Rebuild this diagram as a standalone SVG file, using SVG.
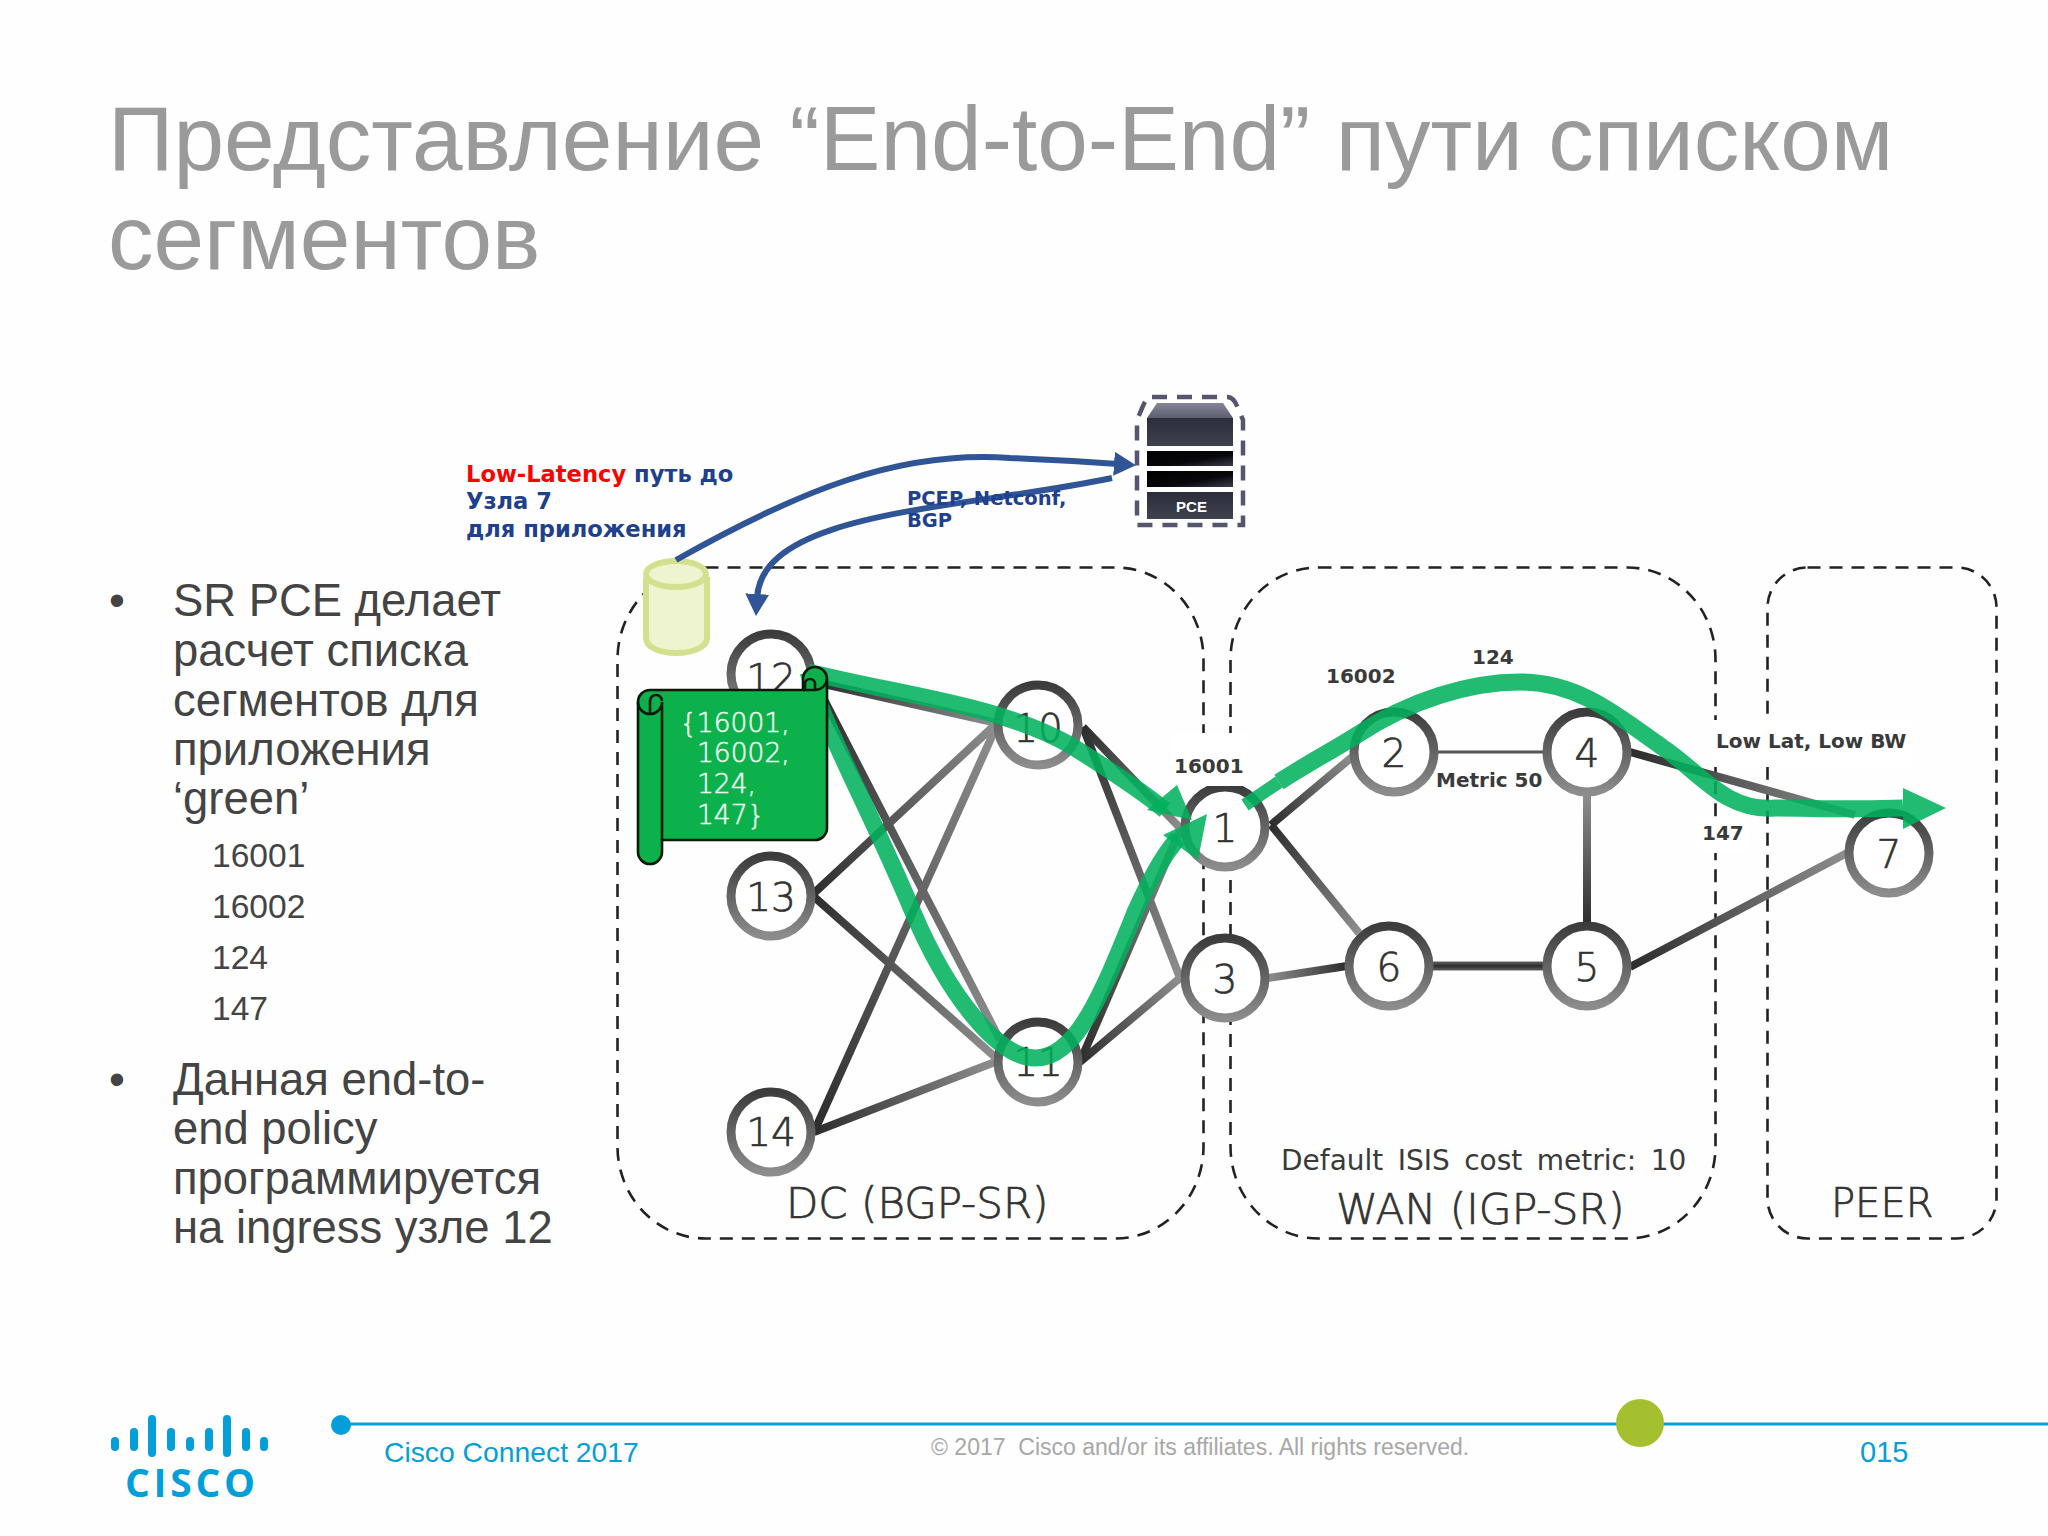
<svg xmlns="http://www.w3.org/2000/svg" width="2048" height="1536" viewBox="0 0 2048 1536">
<defs>
<linearGradient id="nodeg" x1="0" y1="0" x2="0" y2="1"><stop offset="0" stop-color="#3c3c3c"/><stop offset="1" stop-color="#8c8c8c"/></linearGradient>
<linearGradient id="lk"><stop offset="0" stop-color="#2c2c2c"/><stop offset="1" stop-color="#8e8e8e"/></linearGradient>
<linearGradient id="l1" href="#lk" gradientUnits="userSpaceOnUse" x1="815" y1="682" x2="997" y2="723"/>
<linearGradient id="l2" href="#lk" gradientUnits="userSpaceOnUse" x1="815" y1="682" x2="1000" y2="1040"/>
<linearGradient id="l3" href="#lk" gradientUnits="userSpaceOnUse" x1="812" y1="895" x2="997" y2="723"/>
<linearGradient id="l4" href="#lk" gradientUnits="userSpaceOnUse" x1="812" y1="895" x2="995" y2="1057"/>
<linearGradient id="l5" href="#lk" gradientUnits="userSpaceOnUse" x1="814" y1="1132" x2="997" y2="725"/>
<linearGradient id="l6" href="#lk" gradientUnits="userSpaceOnUse" x1="814" y1="1132" x2="995" y2="1062"/>
<linearGradient id="l7" href="#lk" gradientUnits="userSpaceOnUse" x1="1083" y1="727" x2="1180" y2="978"/>
<linearGradient id="l8" href="#lk" gradientUnits="userSpaceOnUse" x1="1080" y1="1062" x2="1180" y2="830"/>
<linearGradient id="l9" href="#lk" gradientUnits="userSpaceOnUse" x1="1080" y1="1062" x2="1180" y2="978"/>
<linearGradient id="l10" href="#lk" gradientUnits="userSpaceOnUse" x1="1083" y1="727" x2="1182" y2="830"/>
<linearGradient id="l11" href="#lk" gradientUnits="userSpaceOnUse" x1="1271" y1="825" x2="1352" y2="757"/>
<linearGradient id="l12" href="#lk" gradientUnits="userSpaceOnUse" x1="1271" y1="825" x2="1359" y2="933"/>
<linearGradient id="l13" href="#lk" gradientUnits="userSpaceOnUse" x1="1587" y1="925" x2="1587" y2="795"/>
<linearGradient id="l14" href="#lk" gradientUnits="userSpaceOnUse" x1="1347" y1="966" x2="1268" y2="978"/>
<linearGradient id="l15" gradientUnits="userSpaceOnUse" x1="0" y1="958" x2="0" y2="974"><stop offset="0" stop-color="#8c8c8c"/><stop offset=".5" stop-color="#2c2c2c"/><stop offset="1" stop-color="#8c8c8c"/></linearGradient>
<linearGradient id="l16" href="#lk" gradientUnits="userSpaceOnUse" x1="1630" y1="967" x2="1847" y2="853"/>
<linearGradient id="l17" href="#lk" gradientUnits="userSpaceOnUse" x1="1630" y1="752" x2="1855" y2="815"/>
<linearGradient id="capg" x1="0" y1="0" x2="0" y2="1"><stop offset="0" stop-color="#85869a"/><stop offset="1" stop-color="#5c5d6e"/></linearGradient>
<linearGradient id="darkg" x1="0" y1="0" x2="0" y2="1"><stop offset="0" stop-color="#2c2d3c"/><stop offset="1" stop-color="#40424f"/></linearGradient>
<linearGradient id="blackg" x1="0" y1="0" x2="1" y2="1"><stop offset="0" stop-color="#000"/><stop offset=".6" stop-color="#08080c"/><stop offset="1" stop-color="#3a3d4a"/></linearGradient>
<marker id="bluehead" markerUnits="userSpaceOnUse" markerWidth="22" markerHeight="24" refX="4" refY="12" orient="auto"><path d="M0 0L22 12L0 24Z" fill="#2f5597"/></marker>
</defs>
<style>
.t{font-family:"Liberation Sans",Arial,sans-serif}
.d{font-family:"DejaVu Sans",Verdana,sans-serif}
.title{font-size:91px;fill:#9a9a9a}
.b{font-size:45.4px;fill:#444}
.s{font-size:33.6px;fill:#444}
.box{fill:none;stroke:#222;stroke-width:2.6;stroke-dasharray:13 9}
.lk{fill:none;stroke-width:8}
.n{fill:#fff;stroke:url(#nodeg);stroke-width:9}
.nl{font-size:39px;font-weight:200;fill:#333;stroke:#333;stroke-width:.7px;text-anchor:middle;font-family:"DejaVu Sans",Verdana,sans-serif}
.reg{font-size:42px;font-weight:200;fill:#333;stroke:#333;stroke-width:.7px}
.lab{font-size:20px;font-weight:bold;fill:#3a3a3a}
.g{fill:none;stroke:#00b15c;stroke-width:17;stroke-opacity:.87}
.gh{fill:#00b15c;fill-opacity:.87}
.blue{fill:none;stroke:#2f5597;stroke-width:6}
.bt{font-size:22.6px;font-weight:bold;fill:#1f3f8f}
.bs{font-size:19.5px;font-weight:bold;fill:#1f3f8f}
.scroll{fill:#0db14b;stroke:#0a1a0a;stroke-width:2.6}
.st{font-size:26.5px;font-weight:200;fill:#f0fff5;stroke:#f0fff5;stroke-width:.5px}
.foot{fill:#049fd9}
.bar{stroke:#049fd9;stroke-width:8;stroke-linecap:round}
</style>
<rect width="2048" height="1536" fill="#fefefe"/>

<g id="title" class="t title">
<text x="108" y="170">Представление “End-to-End” пути списком</text>
<text x="108" y="269">сегментов</text>
</g>
<g id="bullets" class="t">
<text class="b" x="109" y="616">•</text>
<text class="b" x="173" y="616">SR PCE делает</text>
<text class="b" x="173" y="666">расчет списка</text>
<text class="b" x="173" y="716">сегментов для</text>
<text class="b" x="173" y="765">приложения</text>
<text class="b" x="173" y="814">‘green’</text>
<text class="s" x="212" y="867">16001</text>
<text class="s" x="212" y="918">16002</text>
<text class="s" x="212" y="969">124</text>
<text class="s" x="212" y="1020">147</text>
<text class="b" x="109" y="1095">•</text>
<text class="b" x="173" y="1095">Данная end-to-</text>
<text class="b" x="173" y="1144">end policy</text>
<text class="b" x="173" y="1194">программируется</text>
<text class="b" x="173" y="1243">на ingress узле 12</text>
</g>

<g id="regions">
<rect class="box" x="617.500" y="567.500" width="586" height="671" rx="88" ry="92"/>
<rect class="box" x="1230.500" y="567.500" width="485" height="671" rx="88" ry="92"/>
<rect class="box" x="1767.500" y="567.500" width="229" height="671" rx="40" ry="40"/>
<text class="d reg" x="786" y="1218">DC (BGP-SR)</text>
<text class="d reg" x="1336" y="1224" style="font-size:42.4px">WAN (IGP-SR)</text>
<text class="d reg" x="1831" y="1217" style="font-size:40px">PEER</text>
<text class="d" x="1281" y="1170" font-size="28" fill="#3a3a3a" word-spacing="5.500">Default ISIS cost metric: 10</text>
</g>

<g id="connectors">
<line class="lk" x1="815" y1="682" x2="997" y2="723" stroke="url(#l1)"/>
<line class="lk" x1="815" y1="682" x2="1000" y2="1040" stroke="url(#l2)"/>
<line class="lk" x1="812" y1="895" x2="997" y2="723" stroke="url(#l3)"/>
<line class="lk" x1="812" y1="895" x2="995" y2="1057" stroke="url(#l4)"/>
<line class="lk" x1="814" y1="1132" x2="997" y2="725" stroke="url(#l5)"/>
<line class="lk" x1="814" y1="1132" x2="995" y2="1062" stroke="url(#l6)"/>
<line class="lk" x1="1083" y1="727" x2="1180" y2="978" stroke="url(#l7)"/>
<line class="lk" x1="1080" y1="1062" x2="1180" y2="830" stroke="url(#l8)"/>
<line class="lk" x1="1080" y1="1062" x2="1180" y2="978" stroke="url(#l9)"/>
<line class="lk" x1="1083" y1="727" x2="1182" y2="830" stroke="url(#l10)"/>
<line class="lk" x1="1271" y1="825" x2="1352" y2="757" stroke="url(#l11)"/>
<line class="lk" x1="1271" y1="825" x2="1359" y2="933" stroke="url(#l12)"/>
<line x1="1438" y1="752" x2="1545" y2="752" stroke="#555" stroke-width="3"/>
<line class="lk" x1="1587" y1="795" x2="1587" y2="925" stroke="url(#l13)"/>
<line class="lk" x1="1268" y1="978" x2="1347" y2="966" stroke="url(#l14)"/>
<line x1="1432" y1="966" x2="1543" y2="966" stroke="url(#l15)" stroke-width="9"/>
<line class="lk" x1="1630" y1="967" x2="1847" y2="853" stroke="url(#l16)"/>
<line class="lk" x1="1630" y1="752" x2="1855" y2="815" stroke="url(#l17)"/>
</g>

<g id="node-12"><circle class="n" cx="771" cy="674" r="40"/><text class="nl" x="771" y="692">12</text></g>
<g id="node-10"><circle class="n" cx="1038" cy="725" r="40"/><text class="nl" x="1038" y="742">10</text></g>
<g id="node-13"><circle class="n" cx="771" cy="896" r="40"/><text class="nl" x="771" y="911">13</text></g>
<g id="node-14"><circle class="n" cx="771" cy="1132" r="40"/><text class="nl" x="771" y="1146">14</text></g>
<g id="node-11"><circle class="n" cx="1038" cy="1062" r="40"/><text class="nl" x="1038" y="1076">11</text></g>
<g id="node-1"><circle class="n" cx="1225" cy="827" r="40"/><text class="nl" x="1225" y="842">1</text></g>
<g id="node-3"><circle class="n" cx="1225" cy="978" r="40"/><text class="nl" x="1225" y="993">3</text></g>
<g id="node-2"><circle class="n" cx="1394" cy="752" r="40"/><text class="nl" x="1394" y="767">2</text></g>
<g id="node-4"><circle class="n" cx="1587" cy="752" r="40"/><text class="nl" x="1587" y="767">4</text></g>
<g id="node-6"><circle class="n" cx="1389" cy="966" r="40"/><text class="nl" x="1389" y="981">6</text></g>
<g id="node-5"><circle class="n" cx="1587" cy="966" r="40"/><text class="nl" x="1587" y="981">5</text></g>
<g id="node-7"><circle class="n" cx="1889" cy="853" r="40"/><text class="nl" x="1889" y="868">7</text></g>

<g id="labels" class="d lab">
<rect x="1172" y="733" width="78" height="53" fill="#fff"/>
<text x="1174" y="773">16001</text>
<text x="1326" y="683">16002</text>
<text x="1472" y="664">124</text>
<text x="1436" y="787">Metric 50</text>
<rect x="1712" y="720" width="200" height="47" fill="#fff"/>
<text x="1716" y="748">Low Lat, Low BW</text>
<rect x="1698" y="817" width="50" height="36" fill="#fff"/>
<text x="1702" y="840">147</text>
</g>

<g id="green-paths">
<path class="g" d="M808 672C900 695 1000 705 1070 745C1110 770 1140 790 1165 810"/>
<polygon class="gh" points="1192,820 1177,785 1147,810"/>
<path class="g" d="M808 672C830 740 870 810 912 910C950 1000 1000 1058 1035 1058C1075 1058 1100 1000 1136 910C1150 880 1160 860 1178 838"/>
<polygon class="gh" points="1207,814 1163,835 1198,860"/>
<path class="g" style="stroke-width:13" d="M1245 805L1279 782"/>
<path class="g" d="M1279 782C1310 762 1330 752 1357 735C1410 700 1470 682 1520 682C1580 682 1620 718 1662 747C1700 772 1725 812 1775 808C1810 808 1860 810 1903 808"/>
<polygon class="gh" points="1946,808 1903,788 1903,829"/>
</g>

<g id="segment-list">
<path class="scroll" d="M650 690H803V679A12 12 0 0 1 827 679V828A12 12 0 0 1 815 840H662V852A12 12 0 0 1 638 852V702A12 12 0 0 1 650 690Z"/>
<path fill="none" stroke="#0a1a0a" stroke-width="2.600" d="M638 702A12 12 0 0 0 662 702V840M650 713V701A6 6 0 0 1 662 701M803 690H815A12 12 0 0 0 827 679M805 690V684A5 5 0 0 1 815 684V690"/>
<g class="d st">
<text x="680" y="732">{16001,</text>
<text x="697" y="762">16002,</text>
<text x="697" y="793">124,</text>
<text x="697" y="824">147}</text>
</g>
</g>

<g id="database">
<path d="M646 577V638C646 647 659 653 676 653C693 653 707 647 707 638V577" fill="#eef3d0" stroke="#d3e08e" stroke-width="6"/>
<ellipse cx="676" cy="574" rx="30" ry="13" fill="#eef3d0" stroke="#d3e08e" stroke-width="6"/>
</g>

<g id="pce">
<path d="M1152 397H1228Q1234 398 1237 406L1243 420V525H1137V420L1143 406Q1146 398 1152 397Z" fill="none" stroke="#55566e" stroke-width="4.500" stroke-dasharray="15 10"/>
<path d="M1157 403H1223L1233 418H1147Z" fill="url(#capg)"/>
<rect x="1147" y="418" width="86" height="28" fill="url(#darkg)"/>
<rect x="1147" y="451" width="86" height="15" fill="url(#blackg)"/>
<rect x="1147" y="471" width="86" height="16" fill="url(#blackg)"/>
<rect x="1147" y="492" width="86" height="27" fill="url(#darkg)"/>
<text class="t" x="1191.500" y="512" font-size="15" font-weight="bold" fill="#fff" text-anchor="middle">PCE</text>
</g>

<g id="blue-arrows">
<path class="blue" d="M676 560C800 490 900 450 1010 458C1060 460 1090 462 1118 464" marker-end="url(#bluehead)"/>
<path class="blue" d="M1112 478C960 510 762 510 757 598" marker-end="url(#bluehead)"/>
</g>

<g id="callouts" class="d">
<text class="bt" x="466" y="482"><tspan fill="#ff0000">Low-Latency</tspan> путь до</text>
<text class="bt" x="466" y="509">Узла 7</text>
<text class="bt" x="466" y="537">для приложения</text>
<text class="bs" x="907" y="505">PCEP, Netconf,</text>
<text class="bs" x="907" y="527">BGP</text>
</g>

<g id="footer">
<line x1="341" y1="1424" x2="2048" y2="1424" stroke="#049fd9" stroke-width="3"/>
<circle class="foot" cx="341" cy="1425" r="10"/>
<circle cx="1640" cy="1423" r="24" fill="#a4c02f"/>
<text class="t foot" x="384" y="1462" font-size="28.300">Cisco Connect 2017</text>
<text class="t" x="931" y="1455" font-size="23" fill="#a8a8a8" style="white-space:pre">© 2017  Cisco and/or its affiliates. All rights reserved.</text>
<text class="t foot" x="1860" y="1462" font-size="29">015</text>
<g id="logo">
<line class="bar" x1="115" y1="1441" x2="115" y2="1447"/>
<line class="bar" x1="134" y1="1432" x2="134" y2="1447"/>
<line class="bar" x1="152" y1="1419" x2="152" y2="1453"/>
<line class="bar" x1="171" y1="1432" x2="171" y2="1447"/>
<line class="bar" x1="190" y1="1441" x2="190" y2="1447"/>
<line class="bar" x1="209" y1="1432" x2="209" y2="1447"/>
<line class="bar" x1="227" y1="1419" x2="227" y2="1453"/>
<line class="bar" x1="246" y1="1432" x2="246" y2="1447"/>
<line class="bar" x1="264" y1="1441" x2="264" y2="1447"/>
<text class="foot" x="125" y="1497" font-family="Open Sans,Liberation Sans,sans-serif" font-weight="700" font-size="39" textLength="130" lengthAdjust="spacing">CISCO</text>
</g>
</g>
</svg>
